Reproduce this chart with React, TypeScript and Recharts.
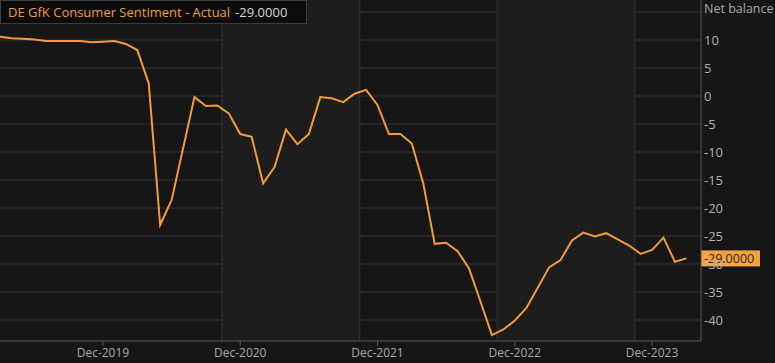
import { CartesianGrid, Line, LineChart, ReferenceArea, ReferenceLine, XAxis, YAxis } from "recharts";

const months = [
  "Mar-2019", "Apr-2019", "May-2019", "Jun-2019", "Jul-2019", "Aug-2019", "Sep-2019", "Oct-2019", "Nov-2019", "Dec-2019",
  "Jan-2020", "Feb-2020", "Mar-2020", "Apr-2020", "May-2020", "Jun-2020", "Jul-2020", "Aug-2020", "Sep-2020", "Oct-2020", "Nov-2020", "Dec-2020",
  "Jan-2021", "Feb-2021", "Mar-2021", "Apr-2021", "May-2021", "Jun-2021", "Jul-2021", "Aug-2021", "Sep-2021", "Oct-2021", "Nov-2021", "Dec-2021",
  "Jan-2022", "Feb-2022", "Mar-2022", "Apr-2022", "May-2022", "Jun-2022", "Jul-2022", "Aug-2022", "Sep-2022", "Oct-2022", "Nov-2022", "Dec-2022",
  "Jan-2023", "Feb-2023", "Mar-2023", "Apr-2023", "May-2023", "Jun-2023", "Jul-2023", "Aug-2023", "Sep-2023", "Oct-2023", "Nov-2023", "Dec-2023",
  "Jan-2024", "Feb-2024", "Mar-2024",
];

const sentiment = [
  10.6, 10.3, 10.2, 10.1, 9.8, 9.8, 9.8, 9.8, 9.6, 9.7,
  9.8, 9.3, 8.2, 2.3, -23.0, -18.6, -9.4, -0.2, -1.8, -1.7, -3.1, -6.8,
  -7.3, -15.6, -12.7, -6.0, -8.6, -6.8, -0.2, -0.4, -1.1, 0.4, 1.1, -1.6,
  -6.8, -6.8, -8.5, -15.6, -26.4, -26.2, -27.7, -30.8, -36.7, -42.7, -41.7, -40.1,
  -37.9, -34.3, -30.6, -29.3, -25.8, -24.4, -25.1, -24.5, -25.6, -26.7, -28.2, -27.5,
  -25.3, -29.6, -29.0,
];

const xTickLabels = ["Dec-2019", "Dec-2020", "Dec-2021", "Dec-2022", "Dec-2023"];
const yTicks = [-40, -35, -30, -25, -20, -15, -10, -5, 0, 5, 10];
const gridValues = [-40, -35, -30, -25, -20, -15, -10, -5, 0, 5, 10, 15];
const bandEdges = [19.4, 31.45, 43.45, 55.5];

const data = sentiment.map((v, i) => ({ idx: i, month: months[i], value: v }));
const xTicks = xTickLabels.map((l) => months.indexOf(l));
const last = sentiment[sentiment.length - 1];

const FONT = "'Open Sans', 'Noto Sans', sans-serif";
const ORANGE = "#F39B3A";

// orange box with the latest value, sitting on the right axis
function LastValueTag(props: any) {
  const vb = props.viewBox || {};
  const x = vb.x + vb.width;
  const y = vb.y;
  return (
    <g>
      <rect x={x} y={y - 8} width={59} height={16} fill="#F5A13F" />
      <text x={x + 3} y={y + 4.5} fill="#2a2a2a" fontSize={12.5} fontFamily={FONT}>
        {last.toFixed(4)}
      </text>
    </g>
  );
}

export default function App() {
  return (
    <div style={{ position: "relative", width: 775, height: 363, background: "#161616" }}>
      <style>{`body{margin:0;background:#161616}`}</style>
      <LineChart width={775} height={363} data={data} margin={{ top: 0, right: 0, bottom: 0, left: 0 }}>
        <ReferenceArea x1={bandEdges[0]} x2={bandEdges[1]} fill="#1e1d1e" fillOpacity={1} stroke="none" />
        <ReferenceArea x1={bandEdges[2]} x2={bandEdges[3]} fill="#1e1d1e" fillOpacity={1} stroke="none" />
        <CartesianGrid stroke="#363636" vertical={false} horizontalValues={gridValues} />
        {bandEdges.map((b) => (
          <ReferenceLine key={b} x={b} stroke="#333" />
        ))}
        <XAxis
          dataKey="idx"
          type="number"
          domain={[0, 61.28]}
          ticks={xTicks}
          tickFormatter={(i: number) => months[i]}
          height={22}
          stroke="#555"
          tickSize={5}
          tickMargin={2}
          tick={{ fill: "#a8a8a8", fontSize: 12, fontFamily: FONT }}
          allowDataOverflow
        />
        <YAxis
          orientation="right"
          width={74}
          domain={[-43.75, 17.14]}
          ticks={yTicks}
          stroke="#555"
          tickLine={false}
          tickSize={0}
          tickMargin={3}
          tick={{ fill: "#b0b0b0", fontSize: 13, fontFamily: FONT, textAnchor: "start" }}
          allowDataOverflow
        />
        <Line
          dataKey="value"
          stroke={ORANGE}
          strokeWidth={2}
          dot={false}
          isAnimationActive={false}
        />
        <ReferenceLine y={last} stroke="none" label={<LastValueTag />} />
      </LineChart>
      <div
        style={{
          position: "absolute",
          left: 704,
          top: 0,
          color: "#a8a8a8",
          fontFamily: FONT,
          fontSize: 12.5,
          lineHeight: "17px",
        }}
      >
        Net balance
      </div>
      <div
        style={{
          position: "absolute",
          left: 0,
          top: 0,
          width: 298,
          height: 22,
          background: "#0c0c0c",
          border: "1px solid #3c3c3c",
          fontFamily: FONT,
          fontSize: 13,
          lineHeight: "22px",
          paddingLeft: 7,
          boxSizing: "content-box",
          whiteSpace: "nowrap",
        }}
      >
        <span style={{ color: ORANGE }}>DE GfK Consumer Sentiment - Actual</span>
        <span style={{ color: "#d8d8d8", marginLeft: 5 }}>{last.toFixed(4)}</span>
      </div>
    </div>
  );
}
